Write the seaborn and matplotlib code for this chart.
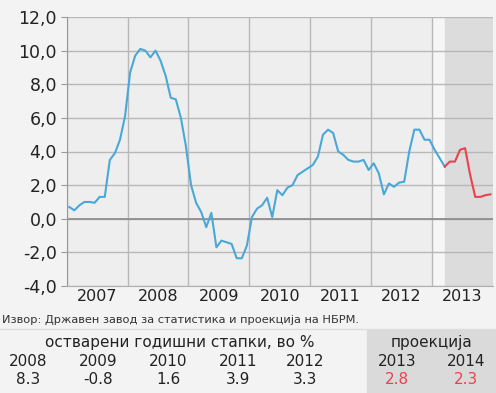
import numpy as np
import pandas as pd
import matplotlib
matplotlib.use("Agg")
import matplotlib.pyplot as plt
from matplotlib.ticker import FuncFormatter, FixedLocator
import seaborn as sns

# monthly inflation, Jan 2007 - Mar 2013 (realised)
actual = [0.7, 0.5, 0.8, 1.0, 1.0, 0.95, 1.3, 1.3, 3.5, 3.9, 4.7, 6.1,
          8.7, 9.7, 10.1, 10.0, 9.6, 10.0, 9.4, 8.5, 7.2, 7.1, 6.0, 4.3,
          2.0, 0.95, 0.4, -0.5, 0.35, -1.7, -1.3, -1.4, -1.5, -2.35, -2.35, -1.6,
          0.1, 0.6, 0.8, 1.25, 0.1, 1.7, 1.4, 1.85, 2.0, 2.6, 2.8, 3.0,
          3.2, 3.7, 5.0, 5.3, 5.1, 4.0, 3.8, 3.5, 3.4, 3.4, 3.5, 2.9,
          3.3, 2.7, 1.45, 2.1, 1.9, 2.15, 2.2, 4.0, 5.3, 5.3, 4.7, 4.7,
          4.1, 3.6, 3.1]
# projection, Mar 2013 - Dec 2013
projection = [3.1, 3.4, 3.4, 4.1, 4.2, 2.6, 1.3, 1.3, 1.4, 1.45]

year_labels = ["2007", "2008", "2009", "2010", "2011", "2012", "2013"]
tbl_years = ["2008", "2009", "2010", "2011", "2012", "2013", "2014"]
tbl_values = ["8.3", "-0.8", "1.6", "3.9", "3.3", "2.8", "2.3"]

t_act = 2007 + (np.arange(len(actual)) + 0.5) / 12
t_proj = 2013 + (np.arange(len(projection)) + 2.5) / 12
df = pd.concat([
    pd.DataFrame({"t": t_act, "v": actual, "s": "actual"}),
    pd.DataFrame({"t": t_proj, "v": projection, "s": "proj"}),
])

W, H = 496, 393
fig = plt.figure(figsize=(W / 100, H / 100), dpi=100, facecolor="#f3f3f3")
ax = fig.add_axes([66.7 / W, 1 - 286 / H, (493 - 66.7) / W, (286 - 17) / H])
ax.set_facecolor("#eeeeee")

# projection shading
ax.axvspan(2013.0, 2013.22, color="#f6f6f6", zorder=0)
ax.axvspan(2013.22, 2014.0, color="#dcdcdc", zorder=0)

sns.lineplot(data=df, x="t", y="v", hue="s",
             palette={"actual": "#4aa8d8", "proj": "#e8434f"},
             linewidth=1.5, legend=False, ax=ax, zorder=3)

ax.set_xlim(2007, 2014)
ax.set_ylim(-4, 12)
ax.set_yticks(np.arange(-4, 12.1, 2))
ax.yaxis.set_major_formatter(FuncFormatter(lambda v, p: f"{v:.1f}".replace(".", ",")))
ax.xaxis.set_major_locator(FixedLocator(np.arange(2007, 2014)))
ax.xaxis.set_minor_locator(FixedLocator(np.arange(2007, 2014) + 0.5))
ax.set_xticklabels([], minor=False)
ax.set_xticklabels(year_labels, minor=True)
ax.tick_params(axis="x", which="both", length=0, pad=2, labelsize=11.5, labelcolor="#222222")
ax.tick_params(axis="y", length=4, color="#999999", labelsize=12.5, labelcolor="#222222", pad=3)
ax.grid(True, which="major", color="#b8b8b8", linewidth=1.0, zorder=1)
ax.axhline(0, color="#8a8a8a", linewidth=1.2, zorder=2)
ax.set_xlabel("")
ax.set_ylabel("")
for side in ["top", "right"]:
    ax.spines[side].set_visible(False)
ax.spines["left"].set_color("#999999")
ax.spines["bottom"].set_color("#b0b0b0")

# source line
fig.text(2 / W, 1 - 320 / H, "Извор: Државен завод за статистика и проекција на НБРМ.",
         fontsize=8.2, color="#333333", va="center", ha="left")
fig.add_artist(plt.Line2D([0, 1], [1 - 329 / H] * 2, color="#dddddd", linewidth=1))
fig.add_artist(plt.Rectangle((367 / W, 0), 1, 1 - 330 / H, color="#dadada", zorder=0))

fs = 11
fig.text(180 / W, 1 - 342 / H, "остварени годишни стапки, во %", fontsize=fs,
         color="#222222", ha="center", va="center")
fig.text(432 / W, 1 - 342 / H, "проекција", fontsize=fs, color="#222222",
         ha="center", va="center")
xs = [28, 98, 168, 238, 305, 397, 466]
for i, (x, yr, val) in enumerate(zip(xs, tbl_years, tbl_values)):
    fig.text(x / W, 1 - 361 / H, yr, fontsize=fs, color="#222222", ha="center", va="center")
    fig.text(x / W, 1 - 380 / H, val, fontsize=fs,
             color="#e8434f" if i >= 5 else "#222222", ha="center", va="center")

fig.savefig("out.png", dpi=100, facecolor=fig.get_facecolor())
